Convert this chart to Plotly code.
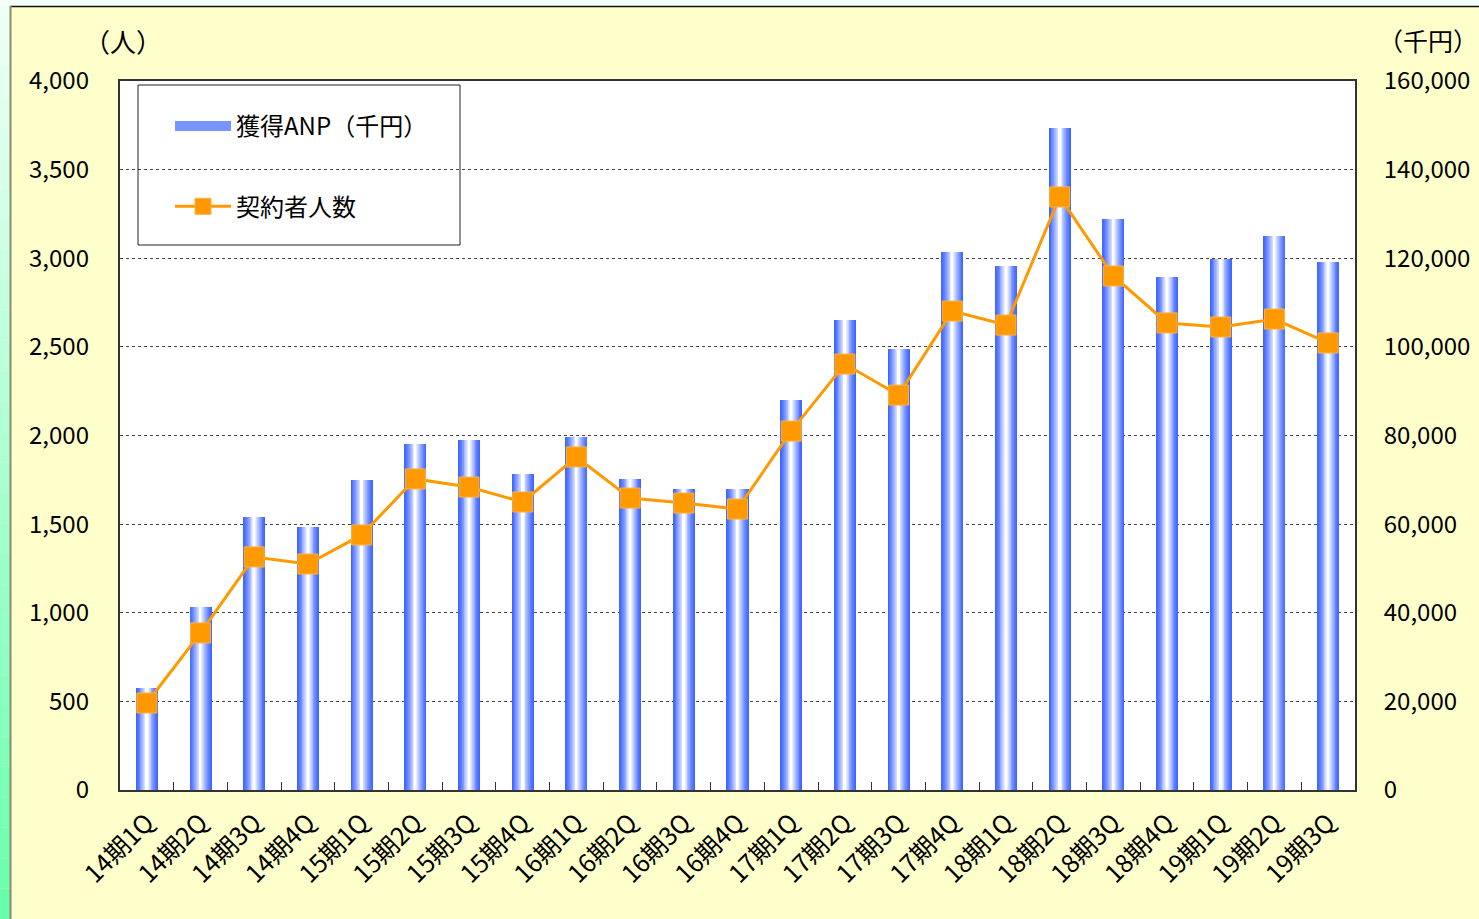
import plotly.graph_objects as go

quarters = ["14期1Q", "14期2Q", "14期3Q", "14期4Q", "15期1Q", "15期2Q", "15期3Q", "15期4Q",
            "16期1Q", "16期2Q", "16期3Q", "16期4Q", "17期1Q", "17期2Q", "17期3Q", "17期4Q",
            "18期1Q", "18期2Q", "18期3Q", "18期4Q", "19期1Q", "19期2Q", "19期3Q"]

# 獲得ANP (千円) - right axis
anp = [23000, 41300, 61600, 59400, 70000, 78100, 79000, 71300,
       79700, 70200, 67900, 67900, 88000, 106100, 99500, 121400,
       118300, 149400, 128900, 115800, 119800, 125000, 119200]

# 契約者人数 (人) - left axis
persons = [491, 886, 1315, 1275, 1439, 1755, 1709, 1625,
           1879, 1647, 1619, 1585, 2025, 2403, 2228, 2702,
           2623, 3346, 2900, 2635, 2612, 2657, 2522]

FONT = "Noto Sans CJK JP"
W, H = 1479, 919
L, R, T, B = 120, 1355, 81, 790   # plot area in pixels


def px_x(px):
    return (px - L) / (R - L)


def px_y(py):
    return (B - py) / (B - T)


def mix(c1, c2, t):
    return "rgb(%d,%d,%d)" % tuple(round(a + (b - a) * t) for a, b in zip(c1, c2))


fig = go.Figure()

# bars with a horizontal blue-white-blue gradient: stacked narrower layers
blue = (63, 102, 255)
white = (255, 255, 255)
n_layers = 12
bar_w = 0.41
for i in range(n_layers):
    t = i / (n_layers - 1)
    fig.add_trace(go.Bar(
        x=quarters, y=anp,
        width=bar_w * (1 - i / n_layers),
        marker=dict(color=mix(blue, white, t ** 1.3), line=dict(width=0)),
        name="獲得ANP（千円）",
        showlegend=False,
        yaxis="y",
        hoverinfo="skip" if i else None,
    ))

# legend swatch for the bars (no data, legend only)
fig.add_trace(go.Scatter(
    x=[None], y=[None], mode="lines",
    name="獲得ANP（千円）",
    legendgroup="anp",
    line=dict(color="#7A94FF", width=14),
    yaxis="y",
))

fig.add_trace(go.Scatter(
    x=quarters, y=persons,
    mode="lines+markers",
    name="契約者人数",
    legendgroup="persons",
    line=dict(color="#FF9900", width=3),
    marker=dict(symbol="square", size=20, color="#FF9900",
                line=dict(color="#FFB040", width=1)),
    yaxis="y2",
))

# background decoration: top strip, left green gradient strip, frame lines
shapes = []
shapes.append(dict(type="rect", xref="paper", yref="paper", layer="below",
                   x0=px_x(0), x1=px_x(W), y0=px_y(6), y1=px_y(0),
                   fillcolor="#F4FFFA", line=dict(width=0)))
steps = 30
top_c, bot_c = (240, 255, 248), (102, 255, 170)
for k in range(steps):
    y0 = 6 + (H - 6) * k / steps
    y1 = 6 + (H - 6) * (k + 1) / steps
    shapes.append(dict(type="rect", xref="paper", yref="paper", layer="below",
                       x0=px_x(0), x1=px_x(10), y0=px_y(y1), y1=px_y(y0),
                       fillcolor=mix(top_c, bot_c, (k + 0.5) / steps), line=dict(width=0)))
shapes.append(dict(type="line", xref="paper", yref="paper", layer="below",
                   x0=px_x(10), x1=px_x(W), y0=px_y(6.5), y1=px_y(6.5),
                   line=dict(color="#111111", width=1.5)))
shapes.append(dict(type="line", xref="paper", yref="paper", layer="below",
                   x0=px_x(10.5), x1=px_x(10.5), y0=px_y(6), y1=px_y(H),
                   line=dict(color="#8A8A70", width=2)))
# legend box
shapes.append(dict(type="rect", xref="paper", yref="paper", layer="above",
                   x0=px_x(138), x1=px_x(460), y0=px_y(245), y1=px_y(85),
                   fillcolor="rgba(0,0,0,0)", line=dict(color="#222222", width=1)))
shapes.append(dict(type="rect", xref="paper", yref="paper", layer="below",
                   x0=px_x(138), x1=px_x(460), y0=px_y(245), y1=px_y(85),
                   fillcolor="white", line=dict(width=0)))

fig.update_layout(
    width=W, height=H,
    margin=dict(l=L, r=W - R, t=T, b=H - B, autoexpand=False),
    paper_bgcolor="#FFFFCC",
    plot_bgcolor="white",
    font=dict(family=FONT, size=22, color="black"),
    barmode="overlay",
    bargap=0,
    shapes=shapes,
    showlegend=True,
    legend=dict(
        x=px_x(170), y=px_y(104), xanchor="left", yanchor="top",
        bgcolor="rgba(0,0,0,0)", borderwidth=0,
        font=dict(family=FONT, size=24),
        tracegroupgap=46, itemwidth=56,
        traceorder="grouped",
    ),
    xaxis=dict(
        type="category",
        range=[-0.5, len(quarters) - 0.5],
        tickangle=-45,
        tickfont=dict(size=25),
        showline=True, linecolor="#333333", linewidth=2, mirror=True,
        ticks="inside", tickson="boundaries", ticklen=8, tickcolor="#333333",
        showgrid=False,
        ticklabelstandoff=6,
    ),
    yaxis=dict(
        side="right",
        range=[0, 160000], dtick=20000, tickformat=",",
        tickfont=dict(size=24),
        showgrid=True, gridcolor="#444444", griddash="dot", gridwidth=1,
        showline=True, linecolor="#333333", linewidth=2, mirror=True,
        ticks="", zeroline=False,
        ticklabelstandoff=22,
    ),
    yaxis2=dict(
        overlaying="y", side="left",
        range=[0, 4000], dtick=500, tickformat=",",
        tickfont=dict(size=24),
        showgrid=False, zeroline=False, showline=False, ticks="",
        ticklabelstandoff=30,
    ),
    annotations=[
        dict(text="（人）", xref="paper", yref="paper", x=px_x(123), y=px_y(40),
             xanchor="center", yanchor="middle", showarrow=False, font=dict(size=26)),
        dict(text="（千円）", xref="paper", yref="paper", x=px_x(1428), y=px_y(40),
             xanchor="center", yanchor="middle", showarrow=False, font=dict(size=25)),
    ],
)

fig.write_html("out.html", config={"displayModeBar": False},
               post_script="document.body.style.margin='0';")
